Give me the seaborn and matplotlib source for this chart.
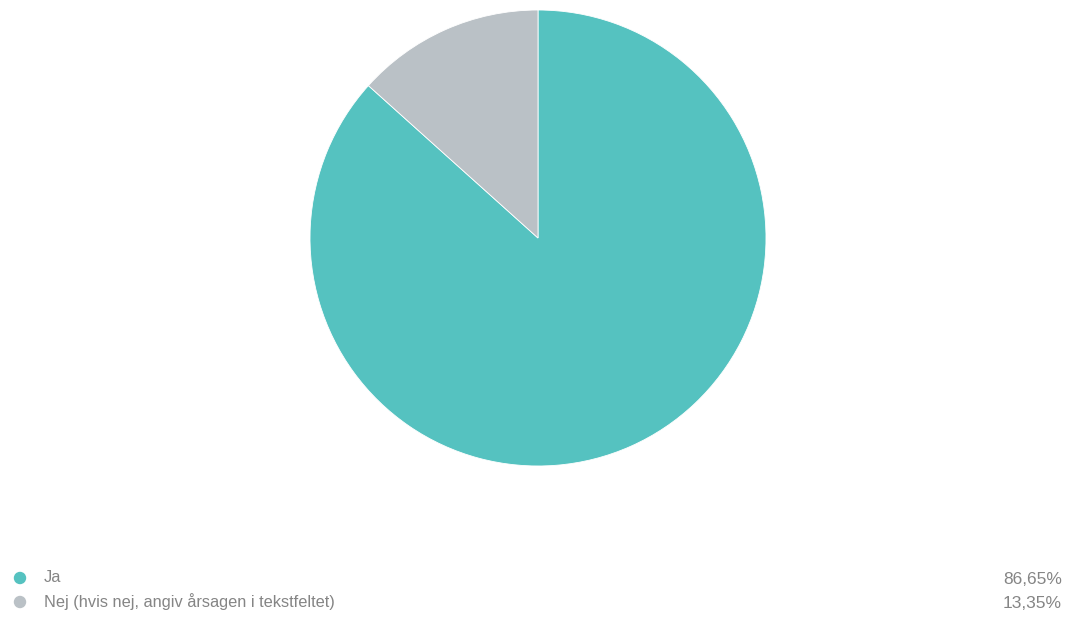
import matplotlib
matplotlib.use("Agg")
import matplotlib.pyplot as plt
import seaborn as sns
import pandas as pd

# Survey answers and their shares (percent)
categories = ["Ja", "Nej (hvis nej, angiv årsagen i tekstfeltet)"]
shares = [86.65, 13.35]
share_labels = ["86,65%", "13,35%"]
colors = ["#55C2C0", "#BAC1C6"]

sns.set_theme(style="white")
plt.rcParams["font.family"] = ["Liberation Sans", "DejaVu Sans"]

fig = plt.figure(figsize=(10.73, 6.24), dpi=100)
fig.patch.set_facecolor("white")

# Pie, starting at 12 o'clock and running clockwise
ax = fig.add_axes([310 / 1073, (624 - 466) / 624, 456 / 1073, 456 / 624])
ax.pie(shares, colors=colors, startangle=90, counterclock=False, radius=1,
       wedgeprops=dict(edgecolor="white", linewidth=0.6, antialiased=True))
ax.set_xlim(-1, 1)
ax.set_ylim(-1, 1)
ax.set_aspect("equal")
ax.axis("off")

# Legend rows below the pie: colored dot, label, share on the right
lax = fig.add_axes([0, 0, 1, 1])
rows = pd.DataFrame({
    "x": [20, 20],
    "y": [578, 602],
    "cat": categories,
})
sns.scatterplot(data=rows, x="x", y="y", hue="cat", palette=colors,
                s=80, edgecolor="none", legend=False, ax=lax)
lax.set_xlim(0, 1073)
lax.set_ylim(624, 0)
lax.axis("off")
for i, (cat, lab) in enumerate(zip(categories, share_labels)):
    y = 578 + 24 * i
    lax.text(44, y, cat, fontsize=11.8, color="#858585", va="center", ha="left")
    lax.text(1062, y + 1, lab, fontsize=12.5, color="#858585", va="center", ha="right")

fig.savefig("out.png", dpi=100, facecolor="white")
